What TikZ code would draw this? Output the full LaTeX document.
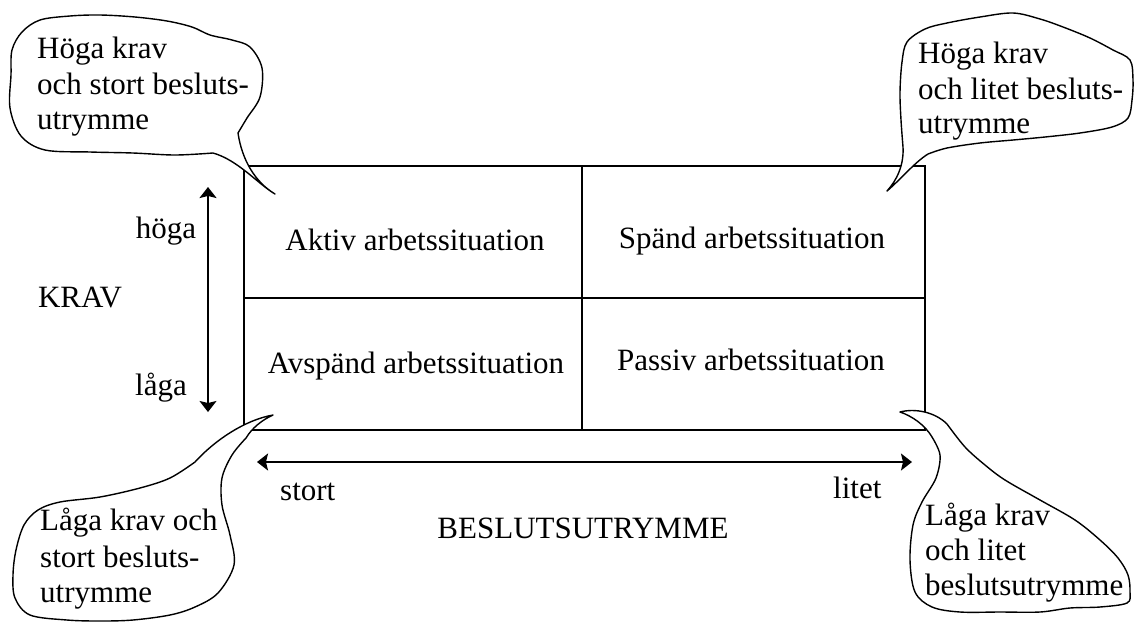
\documentclass[tikz,border=0pt]{standalone}
\usepackage{fontspec}
\setmainfont{Liberation Serif}
\usetikzlibrary{arrows.meta}
\begin{document}
\begin{tikzpicture}[x=1pt,y=-1pt,
  lbl/.style={inner sep=0pt, font=\fontsize{31}{36}\selectfont},
  cloud/.style={draw=black, fill=white, line width=1.4pt, line join=round},
  frame/.style={draw=black, line width=1.6pt},
  dbl/.style={line width=1.6pt, {Stealth[length=11pt,width=17pt,inset=2pt]}-{Stealth[length=11pt,width=17pt,inset=2pt]}}]
\useasboundingbox (0,0) rectangle (1134,625);

% frame
\coordinate (f1) at (244,166);
\coordinate (f3) at (925,430);
\coordinate (m1) at (244,298);
\coordinate (m2) at (925,298);
\coordinate (d1) at (582,166);
\coordinate (d2) at (582,430);
\draw[frame] (f1) rectangle (f3);
\draw[frame] (m1) -- (m2);
\draw[frame] (d1) -- (d2);

% arrows
\coordinate (vA) at (208,187);
\coordinate (vB) at (208,412);
\draw[dbl] (vA) -- (vB);
\coordinate (hA) at (257,462);
\coordinate (hB) at (912,462);
\draw[dbl] (hA) -- (hB);

% cell labels
\node[lbl, anchor=base] (aktiv) at (415,250) {Aktiv arbetssituation};
\node[lbl, anchor=base] (spand) at (752,248) {Spänd arbetssituation};
\node[lbl, anchor=base] (avspand) at (416,373) {Avspänd arbetssituation};
\node[lbl, anchor=base] (passiv) at (751,370) {Passiv arbetssituation};

% axis labels
\node[lbl, anchor=base] (hoga) at (166,238) {höga};
\node[lbl, anchor=base] (laga) at (161,395) {låga};
\node[lbl, anchor=base] (krav) at (80,307) {KRAV};
\node[lbl, anchor=base west] (stort) at (280,500) {stort};
\node[lbl, anchor=base west] (litet) at (833,498) {litet};
\node[lbl, anchor=base] (beslut) at (583,538) {BESLUTSUTRYMME};

% top-left cloud
\draw[cloud] (275,194) .. controls (258,184) and (238,160) .. (213,153)
 -- plot[smooth, tension=0.55] coordinates {(213,153) (175,155) (133,153) (90,152) (45,150) (21,136) (10,108) (11,75) (12,50) (22,32) (40,20) (70,16) (100,15) (135,17) (167,21) (192,27) (210,35) (232,40) (250,47) (262,68) (260,97) (247,118) (238,133)}
 .. controls (242,160) and (255,182) .. (275,194) -- cycle;
% top-right cloud
\draw[cloud] (887,191) .. controls (897,180) and (904,165) .. (903,147)
 -- plot[smooth, tension=0.55] coordinates {(903,147) (901,120) (900,92) (902,62) (907,42) (925,29) (947,23) (980,17) (1013,13) (1040,19) (1063,27) (1090,38) (1113,50) (1130,60) (1133,80) (1132,100) (1128,118) (1112,127) (1080,133) (1045,137) (1013,140) (980,143) (947,148) (928,154)}
 .. controls (915,162) and (900,180) .. (887,191) -- cycle;
% bottom-left cloud
\draw[cloud] (273,415) .. controls (245,420) and (215,440) .. (195,462)
 -- plot[smooth, tension=0.55] coordinates {(195,462) (170,478) (140,488) (100,497) (60,502) (38,510) (24,525) (16,550) (13,575) (15,598) (30,615) (67,620) (100,621) (133,620) (170,615) (195,607) (218,593) (234,565) (230,535) (222,505) (222,478) (232,455) (246,438)}
 .. controls (252,428) and (262,420) .. (273,415) -- cycle;
% bottom-right cloud
\draw[cloud] (900,412) .. controls (915,408) and (935,412) .. (947,424)
 -- plot[smooth, tension=0.55] coordinates {(947,424) (965,447) (985,465) (1005,480) (1040,500) (1075,520) (1100,540) (1118,558) (1128,575) (1130,592) (1127,603) (1100,607) (1070,608) (1040,612) (1000,612) (960,612) (932,607) (915,592) (910,560) (913,525) (922,502) (936,478) (940,455) (932,437)}
 .. controls (925,425) and (912,416) .. (900,412) -- cycle;

% cloud texts
\node[lbl, anchor=base west] (tl1) at (37,58) {Höga krav};
\node[lbl, anchor=base west] (tl2) at (37,94) {och stort besluts-};
\node[lbl, anchor=base west] (tl3) at (37,129) {utrymme};
\node[lbl, anchor=base west] (tr1) at (918,63) {Höga krav};
\node[lbl, anchor=base west] (tr2) at (918,99) {och litet besluts-};
\node[lbl, anchor=base west] (tr3) at (918,133) {utrymme};
\node[lbl, anchor=base west] (bl1) at (40,530) {Låga krav och};
\node[lbl, anchor=base west] (bl2) at (40,567) {stort besluts-};
\node[lbl, anchor=base west] (bl3) at (40,602) {utrymme};
\node[lbl, anchor=base west] (br1) at (925,525) {Låga krav};
\node[lbl, anchor=base west] (br2) at (925,560) {och litet};
\node[lbl, anchor=base west] (br3) at (925,595) {beslutsutrymme};
\end{tikzpicture}
\end{document}
